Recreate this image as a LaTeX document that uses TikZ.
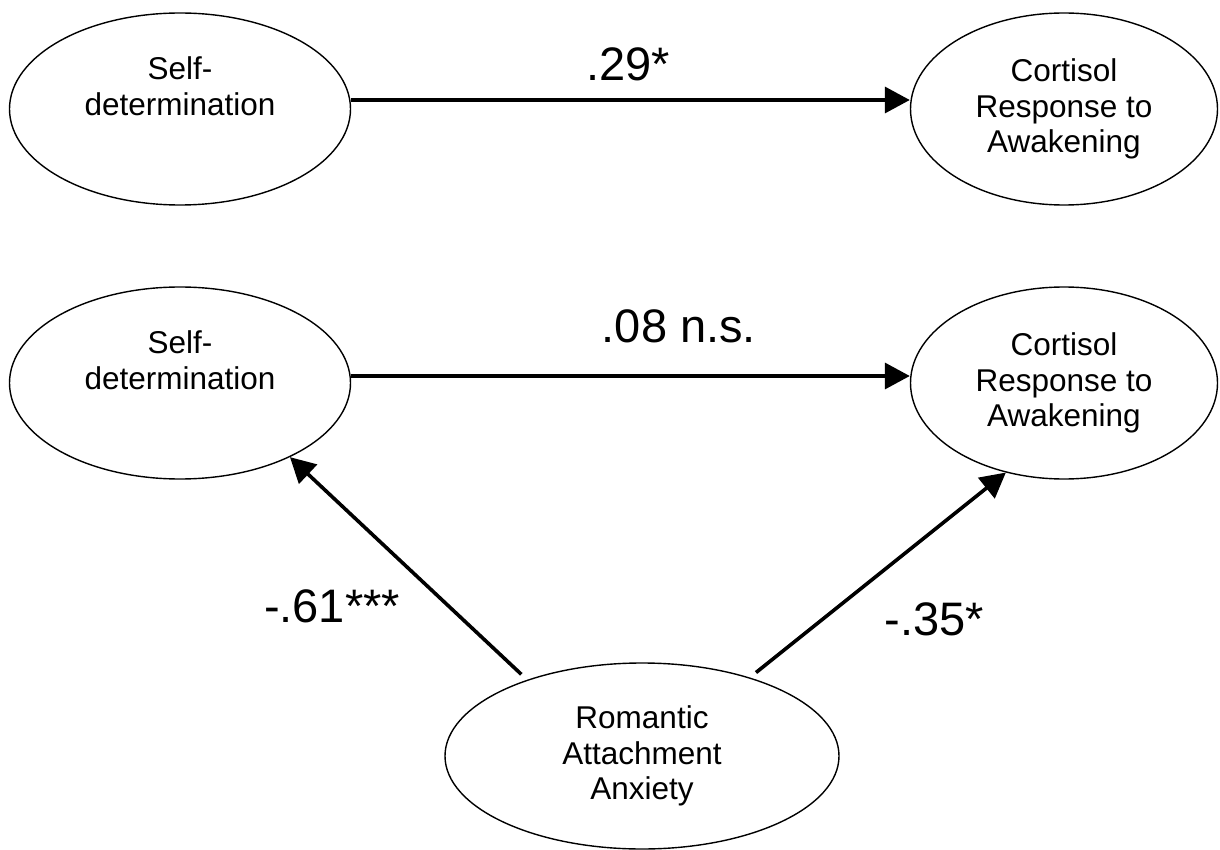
\documentclass[tikz,border=0pt]{standalone}
\usepackage{fontspec}
\setmainfont{Liberation Sans}
\usetikzlibrary{shapes.geometric,arrows.meta}
\begin{document}
\begin{tikzpicture}[x=0.5pt,y=-0.5pt,
  ell/.style={draw=black,line width=0.7pt,ellipse,inner sep=0pt,align=center,
    font=\fontsize{15.75}{17.75}\selectfont},
  sdell/.style={ell,minimum width=170.5pt,minimum height=96pt},
  crell/.style={ell,minimum width=153.5pt,minimum height=96pt},
  arr/.style={line width=1.8pt,-{Triangle[length=12.5pt,width=13pt]}},
  coef/.style={anchor=base,inner sep=0pt,font=\fontsize{23.5}{28}\selectfont}]
\useasboundingbox (0,0) rectangle (1220,850);
% top model
\node[sdell] (sd1) at (180,109) {Self-\\determination\\\strut};
\node[crell] (cr1) at (1064,109) {Cortisol\\Response to\\Awakening};
\draw[arr] ([yshift=4.5pt]sd1.east) -- ([yshift=4.5pt]cr1.west);
\node[coef] (c1) at (628,81) {.29*};
% bottom model
\node[sdell] (sd2) at (180,383) {Self-\\determination\\\strut};
\node[crell] (cr2) at (1064,383) {Cortisol\\Response to\\Awakening};
\node[ell,minimum width=197pt,minimum height=93pt] (ra) at (642,756) {Romantic\\Attachment\\Anxiety};
\draw[arr] ([yshift=3.5pt]sd2.east) -- ([yshift=3.5pt]cr2.west);
\node[coef] (c2) at (679,342) {.08 n.s.};
\draw[arr] ([xshift=-3.5pt,yshift=2.5pt]ra.146) -- (sd2.-34);
\draw[arr] ([xshift=3pt,yshift=2.5pt]ra.36) -- (cr2.237);
\node[coef] (c3) at (332,622) {-.61***};
\node[coef] (c4) at (934,635) {-.35*};
\end{tikzpicture}
\end{document}
